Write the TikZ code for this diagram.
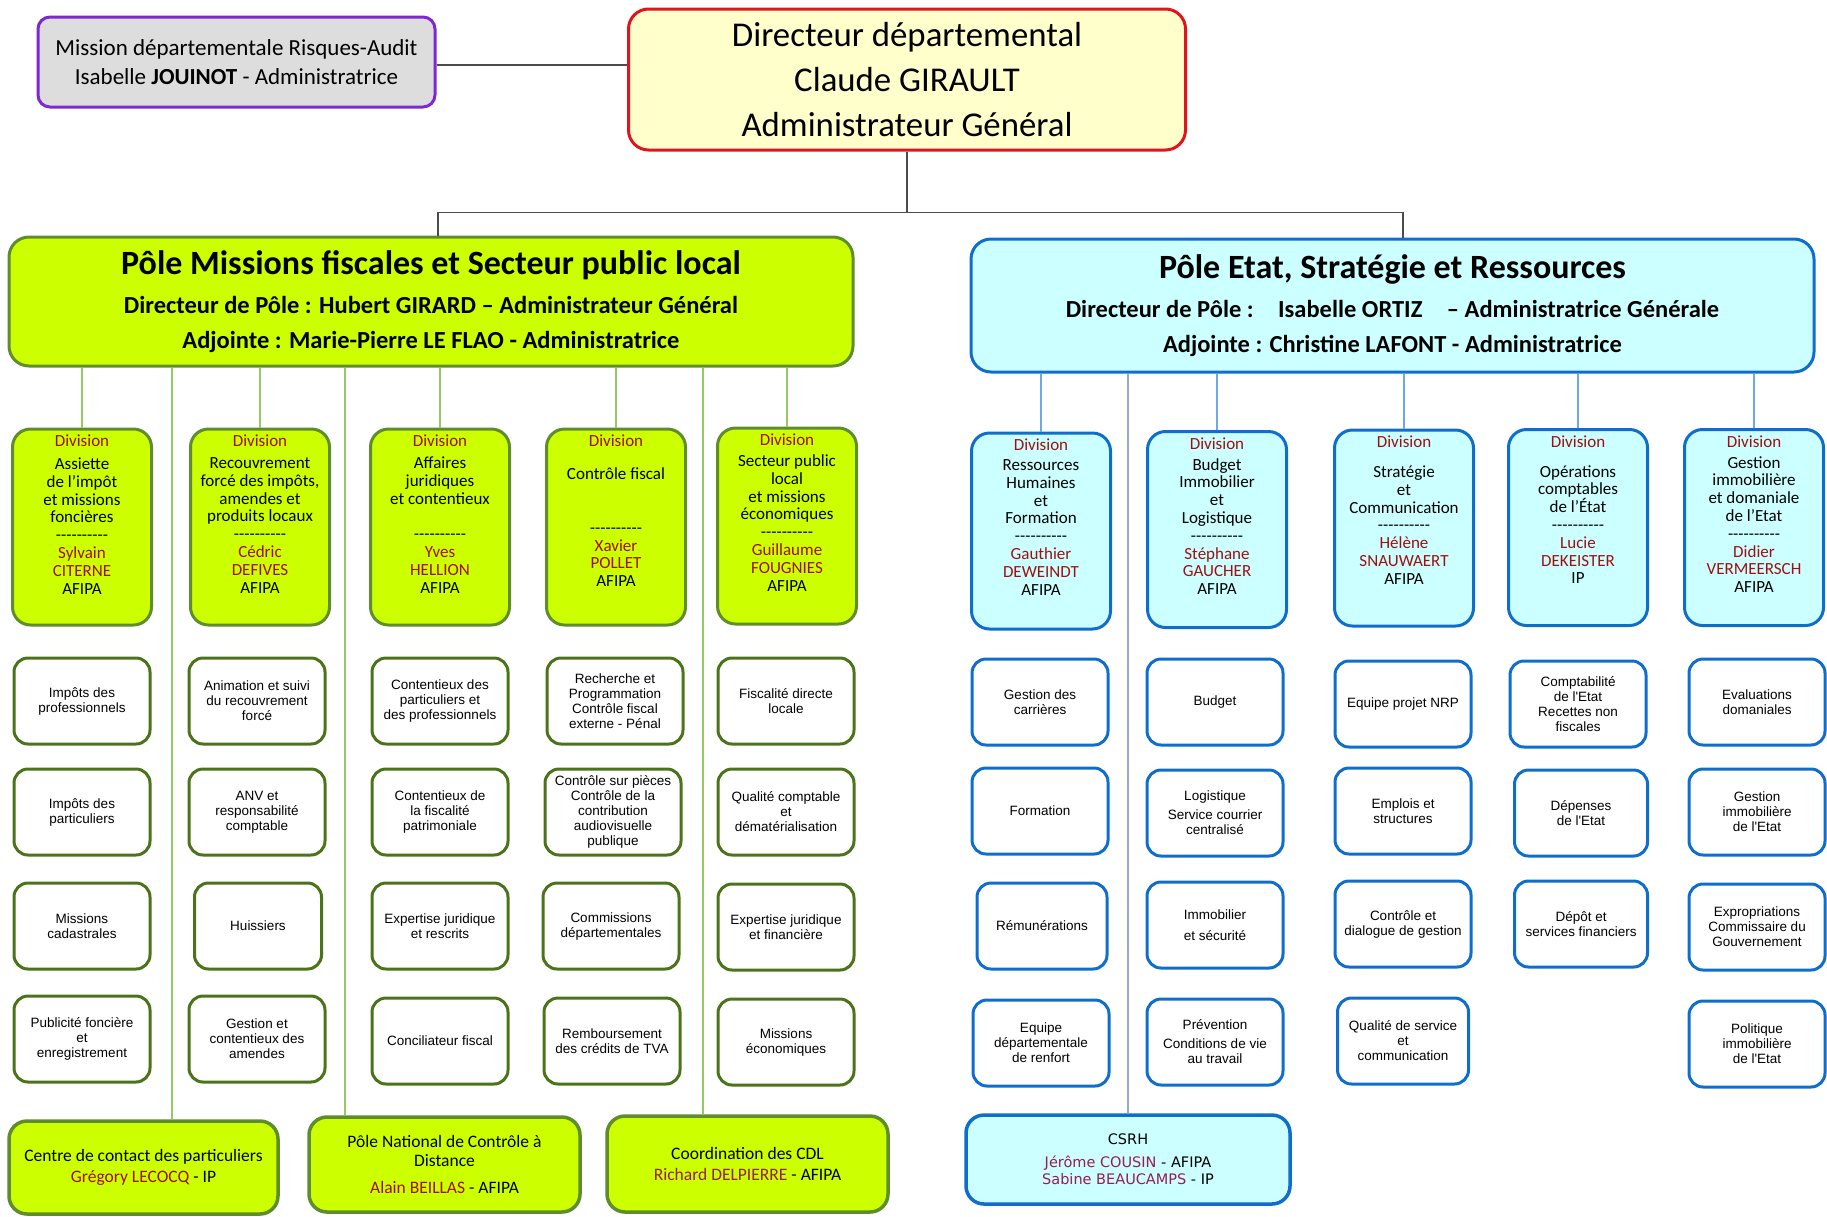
\documentclass[tikz,border=0pt]{standalone}
\usepackage{fontspec}
\setmainfont{Carlito}
\newfontfamily\servfont{Liberation Sans}
\newfontfamily\verdfont{DejaVu Sans}
\definecolor{vertpole}{RGB}{204,255,0}
\definecolor{vertbord}{RGB}{95,140,45}
\definecolor{vertserv}{RGB}{75,115,25}
\definecolor{vertfil}{RGB}{150,200,100}
\definecolor{bleupole}{RGB}{204,255,255}
\definecolor{bleubord}{RGB}{15,110,205}
\definecolor{bleufil}{RGB}{110,170,225}
\definecolor{bleugris}{RGB}{145,170,205}
\definecolor{rougenom}{RGB}{160,15,15}
\definecolor{prune}{RGB}{150,30,80}
\definecolor{jaunedir}{RGB}{255,255,204}
\definecolor{rougedir}{RGB}{225,20,30}
\definecolor{grismis}{RGB}{221,221,221}
\definecolor{violetmis}{RGB}{125,40,210}
\newcommand\nom[1]{\textcolor{rougenom}{#1}}
\newcommand\tirets{-{}-{}-{}-{}-{}-{}-{}-{}-{}-}
\newcommand\divtxt[1]{\parbox[c][184pt][t]{136pt}{\centering #1}}
\newcommand\titrepole[1]{{\bfseries\fontsize{34}{40}\selectfont #1}}

\begin{document}
\begin{tikzpicture}[x=1pt,y=-1pt,
    trait/.style={line width=1.5pt,black!70},
    filvert/.style={line width=1.8pt,vertfil},
    filbleu/.style={line width=1.8pt,bleufil},
    pole/.style={draw,line width=3pt,rounded corners=20pt,align=center,inner sep=0pt,
      font=\bfseries\fontsize{24.5}{35}\selectfont},
    polev/.style={pole,fill=vertpole,draw=vertbord,minimum width=844,minimum height=129},
    poleb/.style={pole,fill=bleupole,draw=bleubord,minimum width=843,minimum height=133},
    divbox/.style={draw,line width=3pt,rounded corners=18pt,minimum width=139,minimum height=196,
      inner sep=0pt,font=\fontsize{17}{17.8}\selectfont},
    divv/.style={divbox,fill=vertpole,draw=vertbord},
    divb/.style={divbox,fill=bleupole,draw=bleubord},
    serv/.style={draw,fill=white,line width=3pt,rounded corners=14pt,minimum width=136,
      minimum height=86,align=center,inner sep=0pt,font=\servfont\fontsize{13.5}{15}\selectfont},
    servv/.style={serv,draw=vertserv},
    servb/.style={serv,draw=bleubord},
    bas/.style={draw,line width=3.5pt,rounded corners=18pt,align=center,inner sep=0pt,
      font=\fontsize{17.5}{21}\selectfont},
    basv/.style={bas,fill=vertpole,draw=vertbord},
    basb/.style={bas,fill=bleupole,draw=bleubord,font=\verdfont\fontsize{14.5}{17.5}\selectfont}]
  \useasboundingbox (0,0) rectangle (1827,1216);

  % direction
  \node[draw=rougedir,fill=jaunedir,line width=3pt,rounded corners=20pt,minimum width=557,
    minimum height=141,align=center,font=\fontsize{34.8}{45}\selectfont] (dir) at (907,79.5)
    {Directeur départemental\\Claude GIRAULT\\Administrateur Général};
  \node[draw=violetmis,fill=grismis,line width=3pt,rounded corners=12pt,minimum width=397,
    minimum height=90,align=center,font=\fontsize{23}{29}\selectfont] (mis) at (236.5,62)
    {Mission départementale Risques-Audit\\Isabelle \textbf{JOUINOT} - Administratrice};
  \draw[trait]([yshift=-3pt]mis.east)--([yshift=-3pt]mis.east-|dir.west);

  % poles
  \node[polev] (pmf) at (431,301.5){\titrepole{Pôle Missions fiscales et Secteur public local}\\[4pt]
    Directeur de Pôle : Hubert GIRARD -- Administrateur Général\\
    Adjointe : Marie-Pierre LE FLAO - Administratrice};
  \node[poleb] (pes) at (1392.5,305.5){\titrepole{Pôle Etat, Stratégie et Ressources}\\[4pt]
    Directeur de Pôle :\quad Isabelle ORTIZ\quad -- Administratrice Générale\\
    Adjointe : Christine LAFONT - Administratrice};
  \coordinate (cpl) at (438,0);
  \coordinate (cpr) at (1403,0);
  \draw[trait](dir.south)--++(0,61)coordinate(emb);
  \draw[trait](pmf.north-|cpl)|-(emb)-|(pes.north-|cpr);

  % divisions du pole missions fiscales
  \node[divv] (dv1) at (82,527){\divtxt{\nom{Division}\\[5pt]Assiette\\de l'impôt\\et missions\\foncières\\
    \tirets\\\nom{Sylvain}\\\nom{CITERNE}\\AFIPA}};
  \node[divv] (dv2) at (260,527){\divtxt{\nom{Division}\\[4pt]Recouvrement\\forcé des impôts,\\amendes et\\
    produits locaux\\\tirets\\\nom{Cédric}\\\nom{DEFIVES}\\AFIPA}};
  \node[divv] (dv3) at (440,527){\divtxt{\nom{Division}\\[4pt]Affaires\\juridiques\\et contentieux\\[18pt]
    \tirets\\\nom{Yves}\\\nom{HELLION}\\AFIPA}};
  \node[divv] (dv4) at (616,527){\divtxt{\nom{Division}\\[15pt]Contrôle fiscal\\[36pt]
    \tirets\\\nom{Xavier}\\\nom{POLLET}\\AFIPA}};
  \node[divv] (dv5) at (787,526){\divtxt{\nom{Division}\\[3pt]Secteur public\\local\\et missions\\économiques\\
    \tirets\\\nom{Guillaume}\\\nom{FOUGNIES}\\AFIPA}};

  % divisions du pole etat
  \node[divb] (db1) at (1041,531){\divtxt{\nom{Division}\\[2pt]Ressources\\Humaines\\et\\Formation\\
    \tirets\\\nom{Gauthier}\\\nom{DEWEINDT}\\AFIPA}};
  \node[divb] (db2) at (1217,529.5){\divtxt{\nom{Division}\\[3pt]Budget\\Immobilier\\et\\Logistique\\
    \tirets\\\nom{Stéphane}\\\nom{GAUCHER}\\AFIPA}};
  \node[divb] (db3) at (1404,528){\divtxt{\nom{Division}\\[12pt]Stratégie\\et\\Communication\\
    \tirets\\\nom{Hélène}\\\nom{SNAUWAERT}\\AFIPA}};
  \node[divb] (db4) at (1578,527.5){\divtxt{\nom{Division}\\[12pt]Opérations\\comptables\\de l'État\\
    \tirets\\\nom{Lucie}\\\nom{DEKEISTER}\\IP}};
  \node[divb] (db5) at (1754,527.5){\divtxt{\nom{Division}\\[3pt]Gestion\\immobilière\\et domaniale\\de l'Etat\\
    \tirets\\\nom{Didier}\\\nom{VERMEERSCH}\\AFIPA}};

  \foreach \d in {dv1,dv2,dv3,dv4,dv5}
    \draw[filvert](pmf.south-|\d.north)--(\d.north);
  \foreach \d in {db1,db2,db3,db4,db5}
    \draw[filbleu](pes.south-|\d.north)--(\d.north);

  % services du pole missions fiscales
  \node[servv] (sv11) at (82,701){Impôts des\\professionnels};
  \node[servv] (sv12) at (82,812){Impôts des\\particuliers};
  \node[servv] (sv13) at (82,926){Missions\\cadastrales};
  \node[servv] (sv14) at (82,1039){Publicité foncière\\et\\enregistrement};
  \node[servv] (sv21) at (257,701){Animation et suivi\\du recouvrement\\forcé};
  \node[servv] (sv22) at (257,812){ANV et\\responsabilité\\comptable};
  \node[servv,minimum width=127] (sv23) at (258,926){Huissiers};
  \node[servv] (sv24) at (257,1039){Gestion et\\contentieux des\\amendes};
  \node[servv] (sv31) at (440,701){Contentieux des\\particuliers et\\des professionnels};
  \node[servv] (sv32) at (440,812){Contentieux de\\la fiscalité\\patrimoniale};
  \node[servv] (sv33) at (440,926){Expertise juridique\\et rescrits};
  \node[servv] (sv34) at (440,1041){Conciliateur fiscal};
  \node[servv] (sv41) at (615,701){Recherche et\\Programmation\\Contrôle fiscal\\externe - Pénal};
  \node[servv] (sv42) at (613,812){Contrôle sur pièces\\Contrôle de la\\contribution\\audiovisuelle\\publique};
  \node[servv] (sv43) at (611,926){Commissions\\départementales};
  \node[servv] (sv44) at (612,1041){Remboursement\\des crédits de TVA};
  \node[servv] (sv51) at (786,701){Fiscalité directe\\locale};
  \node[servv] (sv52) at (786,812){Qualité comptable\\et\\dématérialisation};
  \node[servv] (sv53) at (786,927){Expertise juridique\\et financière};
  \node[servv] (sv54) at (786,1042){Missions\\économiques};

  % services du pole etat
  \node[servb] (sb11) at (1040,702){Gestion des\\carrières};
  \node[servb] (sb12) at (1040,811){Formation};
  \node[servb,minimum width=130] (sb13) at (1042,926){Rémunérations};
  \node[servb] (sb14) at (1041,1043){Equipe\\départementale\\de renfort};
  \node[servb] (sb21) at (1215,702){Budget};
  \node[servb] (sb22) at (1215,813){Logistique\\[4pt]Service courrier\\centralisé};
  \node[servb] (sb23) at (1215,925){Immobilier\\[6pt]et sécurité};
  \node[servb] (sb24) at (1215,1042){Prévention\\[4pt]Conditions de vie\\au travail};
  \node[servb] (sb31) at (1403,704){Equipe projet NRP};
  \node[servb] (sb32) at (1403,811){Emplois et\\structures};
  \node[servb] (sb33) at (1403,924){Contrôle et\\dialogue de gestion};
  \node[servb,minimum width=131] (sb34) at (1403,1041){Qualité de service\\et\\communication};
  \node[servb] (sb41) at (1578,704){Comptabilité\\de l'Etat\\Recettes non\\fiscales};
  \node[servb,minimum width=133] (sb42) at (1581,813){Dépenses\\de l'Etat};
  \node[servb,minimum width=133] (sb43) at (1581,924){Dépôt et\\services financiers};
  \node[servb] (sb51) at (1757,702){Evaluations\\domaniales};
  \node[servb] (sb52) at (1757,812){Gestion\\immobilière\\de l'Etat};
  \node[servb] (sb53) at (1757,927){Expropriations\\Commissaire du\\Gouvernement};
  \node[servb] (sb54) at (1757,1044){Politique\\immobilière\\de l'Etat};

  % structures rattachees
  \node[basv,minimum width=269,minimum height=93] (ccp) at (143.5,1167.5)
    {Centre de contact des particuliers\\\nom{Grégory LECOCQ} - IP};
  \node[basv,minimum width=271,minimum height=95] (pnc) at (444.5,1164.5)
    {Pôle National de Contrôle à\\[-2pt]Distance\\[6pt]\nom{Alain BEILLAS} - AFIPA};
  \node[basv,minimum width=281,minimum height=96] (cdl) at (747.5,1164)
    {Coordination des CDL\\\textcolor{prune}{Richard DELPIERRE} - AFIPA};
  \node[basb,minimum width=324,minimum height=89] (csrh) at (1128,1159.5)
    {CSRH\\[5pt]\textcolor{prune}{Jérôme COUSIN} - AFIPA\\\textcolor{prune}{Sabine BEAUCAMPS} - IP};
  \coordinate (l1) at (172,0);
  \coordinate (l2) at (345,0);
  \coordinate (l3) at (703,0);
  \draw[filvert](pmf.south-|l1)--(ccp.north-|l1);
  \draw[filvert](pmf.south-|l2)--(pnc.north-|l2);
  \draw[filvert](pmf.south-|l3)--(cdl.north-|l3);
  \draw[line width=2.5pt,bleugris](pes.south-|csrh.north)--(csrh.north);
\end{tikzpicture}
\end{document}
